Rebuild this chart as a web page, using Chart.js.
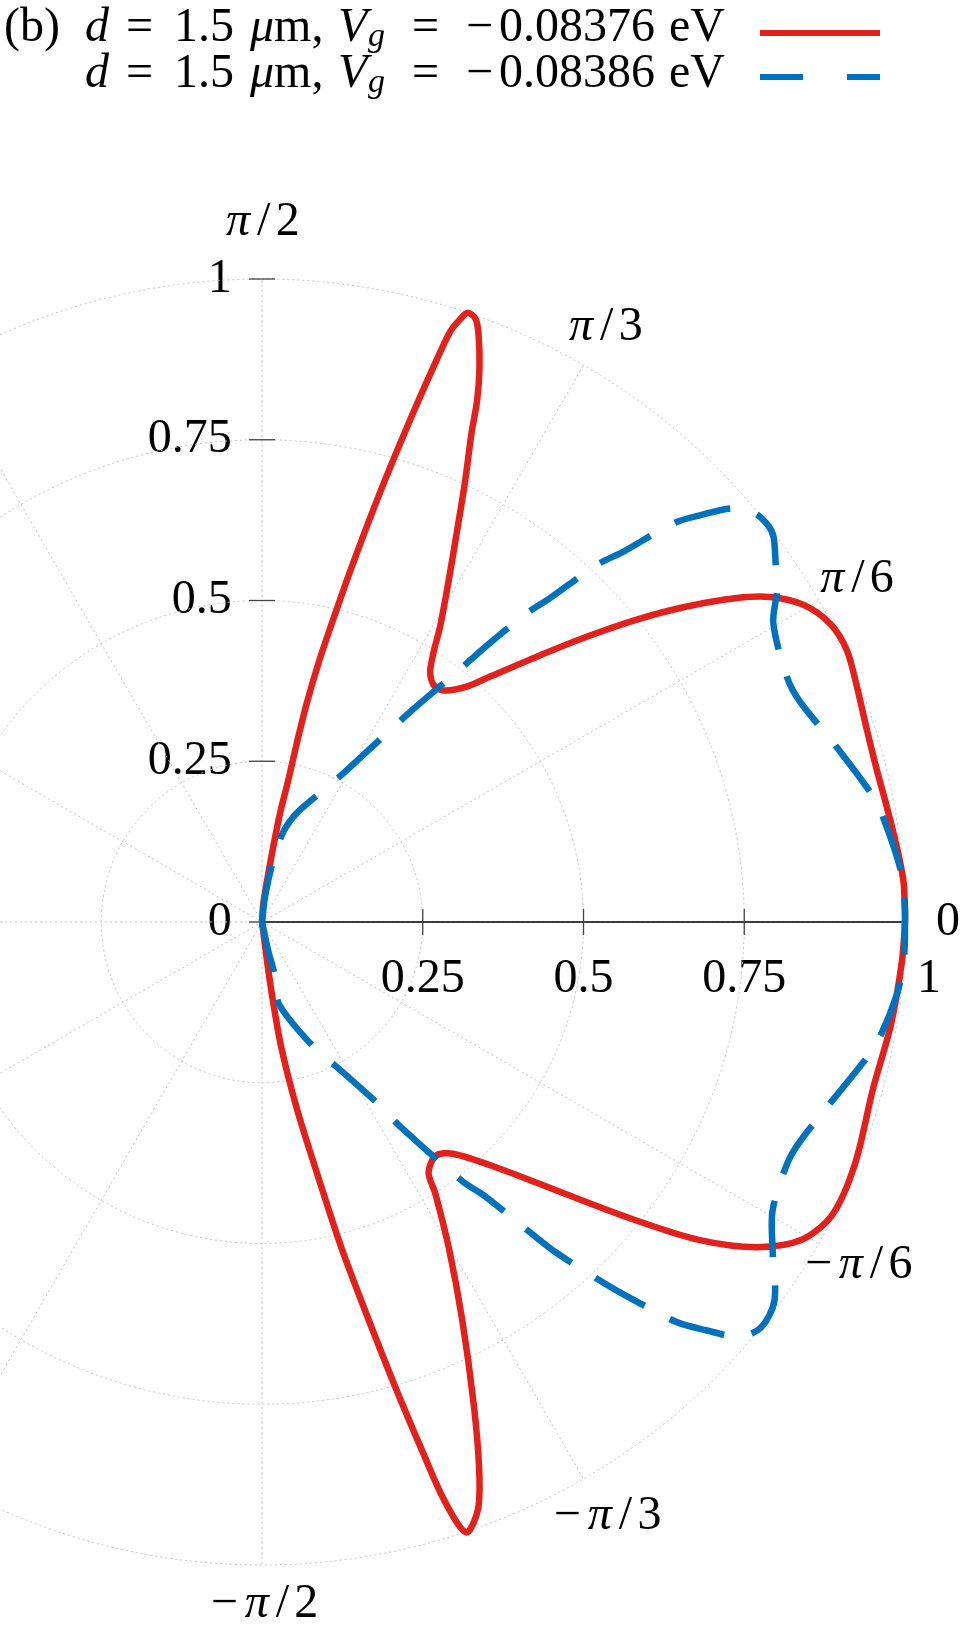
<!DOCTYPE html>
<html>
<head>
<meta charset="utf-8">
<script src="https://cdn.jsdelivr.net/npm/chart.js@4.4.1/dist/chart.umd.min.js"></script>
<style>
  html, body { margin: 0; padding: 0; background: #fff; }
  #wrap { position: relative; width: 972px; height: 1650px; overflow: hidden; }
  #plot { position: absolute; left: 0; top: 0; }
  .legend { position: absolute; left: 0; top: 0; width: 972px; height: 110px;
            font-family: 'Liberation Serif', serif; font-size: 48px; color: #000; }
  .row { position: absolute; left: 0; width: 972px; height: 48px; line-height: 48px; white-space: nowrap; }
  .row span { position: absolute; top: 0; }
  .row i { font-style: italic; }
  .row .sub { font-size: 34px; font-style: italic; top: 10px; }
  .sample { position: absolute; height: 6px; }
  .red { background: #e2211c; }
  .blue { background: #0072bd; }
</style>
</head>
<body>
<div id="wrap">
  <canvas id="plot" width="972" height="1650"></canvas>
  <div class="legend">
    <div class="row" style="top:1px">
      <span style="left:4px">(b)</span>
      <span style="left:85px"><i>d</i></span>
      <span style="left:126px">=</span>
      <span style="left:174px">1.5</span>
      <span style="left:250px"><i>μ</i>m,</span>
      <span style="left:338px"><i>V</i></span>
      <span class="sub" style="left:368px">g</span>
      <span style="left:412px">=</span>
      <span style="left:466px">−</span>
      <span style="left:499px">0.08376</span>
      <span style="left:669px">eV</span>
    </div>
    <div class="row" style="top:47px">
      <span style="left:85px"><i>d</i></span>
      <span style="left:126px">=</span>
      <span style="left:174px">1.5</span>
      <span style="left:250px"><i>μ</i>m,</span>
      <span style="left:338px"><i>V</i></span>
      <span class="sub" style="left:368px">g</span>
      <span style="left:412px">=</span>
      <span style="left:466px">−</span>
      <span style="left:499px">0.08386</span>
      <span style="left:669px">eV</span>
    </div>
    <div class="sample red" style="left:760px; top:30px; width:120px"></div>
    <div class="sample blue" style="left:760px; top:74px; width:43px"></div>
    <div class="sample blue" style="left:847px; top:74px; width:33px"></div>
  </div>
</div>
<script>
// series labels
const seriesNames = ['d = 1.5 μm, Vg = −0.08376 eV', 'd = 1.5 μm, Vg = −0.08386 eV'];

// red curve (Vg = -0.08376 eV): angle in degrees, radius
const thetaRed = [90, 86.0, 82.6, 81.5, 80.6, 79.5, 79.0, 78.45, 77.7, 76.77, 75.81, 74.6, 73.57, 72.85, 72.33, 71.85, 71.35, 70.5,
  69.8, 68.6, 67.6, 66.8, 65.2, 63.4, 61.2, 58.9, 57.5, 55.95, 53.7, 51.65, 48.98, 47.1, 44.0, 41.3, 38.9, 36.6,
  34.3, 32.6, 30.35, 27.7, 24.95, 21.6, 17.6, 13.9, 10.5, 6.8, 3.75, 1.36, 0,
  -3.6, -9.3, -15.2, -22.2, -27.15, -30.5, -33.3, -36.05, -38.75, -41.9, -46.2, -50.5, -53.4, -56.4, -57.45,
  -60.2, -63.3, -66.3, -68.3, -69.8, -71.5, -72.5, -73.15, -74.0, -75.0, -76.3, -77.5, -79.4, -81.3, -82.4, -90];
const rRed = [0, 0.029, 0.076, 0.118, 0.171, 0.225, 0.283, 0.347, 0.412, 0.483, 0.571, 0.697, 0.814, 0.902, 0.963, 0.985, 1.0, 0.995,
  0.975, 0.927, 0.878, 0.827, 0.752, 0.676, 0.601, 0.536, 0.496, 0.467, 0.454, 0.459, 0.485, 0.521, 0.594, 0.672, 0.749, 0.823,
  0.894, 0.938, 0.976, 0.998, 1.003, 0.995, 0.987, 0.985, 0.988, 0.994, 0.9995, 1.0, 1.0,
  0.997, 0.991, 0.985, 0.996, 0.997, 0.974, 0.921, 0.840, 0.738, 0.633, 0.530, 0.467, 0.453, 0.468, 0.501,
  0.585, 0.693, 0.819, 0.913, 0.973, 1.001, 0.944, 0.859, 0.753, 0.640, 0.522, 0.412, 0.297, 0.195, 0.096, 0];

// blue dashed curve (Vg = -0.08386 eV)
const thetaBlue = [90, 83.2, 79.7, 76.7, 72.3, 65.4, 61.3, 56.7, 55.05, 54.15, 51.9, 51.07, 49.4, 48.35, 46.85, 45.7,
  44.1, 42.8, 41.3, 39.65, 38.1, 37.0, 34.8, 32.8, 30.3, 25.05, 22.3, 16.96, 11.77, 9.15, 4.2, 1.5, 0,
  -3.2, -6.44, -11.05, -13.67, -21.6, -24.5, -29.47, -32.9, -36.47, -39.1, -41.0, -42.6, -43.98, -45.7, -46.6,
  -48.35, -49.15, -50.8, -52.3, -56.0, -57.3, -62.7, -67.3, -78.25, -76.55, -77.9, -90];
const rBlue = [0, 0.040, 0.098, 0.144, 0.178, 0.223, 0.264, 0.348, 0.393, 0.420, 0.500, 0.544, 0.632, 0.674, 0.761, 0.805,
  0.891, 0.932, 0.975, 0.996, 1.0, 0.996, 0.973, 0.953, 0.921, 0.901, 0.904, 0.934, 0.969, 0.981, 0.998, 1.0, 1.0,
  1.0, 0.994, 0.975, 0.956, 0.906, 0.899, 0.912, 0.946, 0.991, 1.0, 0.983, 0.938, 0.896, 0.814, 0.771,
  0.688, 0.640, 0.553, 0.509, 0.383, 0.339, 0.254, 0.213, 0.131, 0.084, 0.045, 0];

// radial ticks
const radialTicksX = [0.25, 0.5, 0.75, 1];
const radialLabelsX = ['0.25', '0.5', '0.75', '\u2002\u20021'];
const radialTicksY = [0, 0.25, 0.5, 0.75, 1];
const radialLabelsY = ['0', '0.25', '0.5', '0.75', '1'];
const gridRadii = [0.25, 0.5, 0.75, 1];

// angular ticks
const angleTicks = [90, 60, 30, 0, -30, -60, -90];
const angleLabels = ['π/2', 'π/3', 'π/6', '0', '−π/6', '−π/3', '−π/2'];

const FONT = "'Liberation Serif', serif";
const RED = '#e2211c';
const BLUE = '#0072bd';

const toXY = (thetas, radii) => thetas.map((t, i) => {
    const a = t * Math.PI / 180;
    return { x: radii[i] * Math.cos(a), y: radii[i] * Math.sin(a) };
});

// glyph advance widths (em) so the labels get roughly TeX-like spacing
const advance = { '−': 0.778, 'π': 0.57, '/': 0.5 };

const drawMathLabel = (ctx, text, cx, cy, size) => {
    const chars = [...text];
    const widths = chars.map(c => (advance[c] || 0.5) * size);
    let x = cx - widths.reduce((a, b) => a + b, 0) / 2;
    chars.forEach((c, i) => {
        ctx.font = (c === 'π' ? 'italic ' : '') + size + 'px ' + FONT;
        ctx.fillText(c, x + widths[i] / 2, cy);
        x += widths[i];
    });
};

// positioned axes should not eat into the plot area
const noLayoutSpace = s => {
    s.paddingTop = s.paddingBottom = s.paddingLeft = s.paddingRight = 0;
    if (s.isHorizontal()) s.height = 0; else s.width = 0;
};

const polarGrid = {
    id: 'polarGrid',
    beforeDatasetsDraw(chart) {
        const { ctx, scales: { x, y } } = chart;
        const cx = x.getPixelForValue(0), cy = y.getPixelForValue(0);
        const unit = x.getPixelForValue(1) - cx;
        ctx.save();

        // dotted grid: circles and spokes every 30 degrees
        ctx.strokeStyle = '#c2c2c2';
        ctx.lineWidth = 1;
        ctx.setLineDash([2, 3]);
        gridRadii.forEach(r => {
            ctx.beginPath();
            ctx.arc(cx, cy, r * unit, 0, Math.PI * 2);
            ctx.stroke();
        });
        for (let a = 0; a < 360; a += 30) {
            const rad = a * Math.PI / 180;
            ctx.beginPath();
            ctx.moveTo(cx, cy);
            ctx.lineTo(cx + unit * Math.cos(rad), cy - unit * Math.sin(rad));
            ctx.stroke();
        }
        ctx.setLineDash([]);

        // radial axis along theta = 0
        ctx.strokeStyle = '#000';
        ctx.lineWidth = 1.4;
        ctx.beginPath();
        ctx.moveTo(cx, cy);
        ctx.lineTo(x.getPixelForValue(1), cy);
        ctx.stroke();

        // tick marks
        ctx.strokeStyle = '#444';
        ctx.lineWidth = 1.3;
        radialTicksX.forEach(v => {
            const px = x.getPixelForValue(v);
            ctx.beginPath();
            ctx.moveTo(px, cy - 13);
            ctx.lineTo(px, cy + 13);
            ctx.stroke();
        });
        radialTicksY.forEach(v => {
            const py = y.getPixelForValue(v);
            ctx.beginPath();
            ctx.moveTo(cx - 13, py);
            ctx.lineTo(cx + 13, py);
            ctx.stroke();
        });
        ctx.restore();
    },
    afterDraw(chart) {
        const { ctx, scales: { x, y } } = chart;
        const cx = x.getPixelForValue(0), cy = y.getPixelForValue(0);
        const unit = x.getPixelForValue(1) - cx;
        ctx.save();
        ctx.fillStyle = '#000';
        ctx.textAlign = 'center';
        ctx.textBaseline = 'middle';
        angleTicks.forEach((t, i) => {
            const a = t * Math.PI / 180;
            let d = unit * 1.067;
            if (t === 90) d += 14;
            if (t === -90) d -= 4;
            drawMathLabel(ctx, angleLabels[i], cx + d * Math.cos(a), cy - d * Math.sin(a), 48);
        });
        ctx.restore();
    }
};

new Chart(document.getElementById('plot'), {
    type: 'scatter',
    data: {
        datasets: [
            {
                label: seriesNames[0],
                data: toXY(thetaRed, rRed),
                showLine: true,
                borderColor: RED,
                borderWidth: 6.5,
                borderJoinStyle: 'round',
                pointRadius: 0,
                tension: 0.3,
                order: 1
            },
            {
                label: seriesNames[1],
                data: toXY(thetaBlue, rBlue),
                showLine: true,
                borderColor: BLUE,
                borderWidth: 6.5,
                borderDash: [57, 28],
                pointRadius: 0,
                tension: 0.3,
                order: 0
            }
        ]
    },
    options: {
        responsive: false,
        animation: false,
        devicePixelRatio: 1,
        layout: { padding: 0 },
        plugins: { legend: { display: false }, tooltip: { enabled: false } },
        scales: {
            x: {
                type: 'linear',
                axis: 'x',
                min: -0.4075,
                max: 1.1042,
                bounds: 'data',
                position: { y: 0 },
                grid: { display: false, drawTicks: false },
                border: { display: false },
                afterBuildTicks: s => { s.ticks = radialTicksX.map(v => ({ value: v })); },
                afterFit: noLayoutSpace,
                ticks: {
                    autoSkip: false, maxRotation: 0, padding: 29, color: '#000',
                    font: { family: FONT, size: 48 },
                    callback: (v, i) => radialLabelsX[i]
                }
            },
            y: {
                type: 'linear',
                axis: 'y',
                min: -1.1322,
                max: 1.4339,
                bounds: 'data',
                // labels are right-aligned on this x value, a little left of the 90 degree ray
                position: { x: -0.047 },
                grid: { display: false, drawTicks: false },
                border: { display: false },
                afterBuildTicks: s => { s.ticks = radialTicksY.map(v => ({ value: v })); },
                afterFit: noLayoutSpace,
                ticks: {
                    autoSkip: false, padding: 0, color: '#000',
                    font: { family: FONT, size: 48 },
                    callback: (v, i) => radialLabelsY[i]
                }
            }
        }
    },
    plugins: [polarGrid]
});
</script>
</body>
</html>
